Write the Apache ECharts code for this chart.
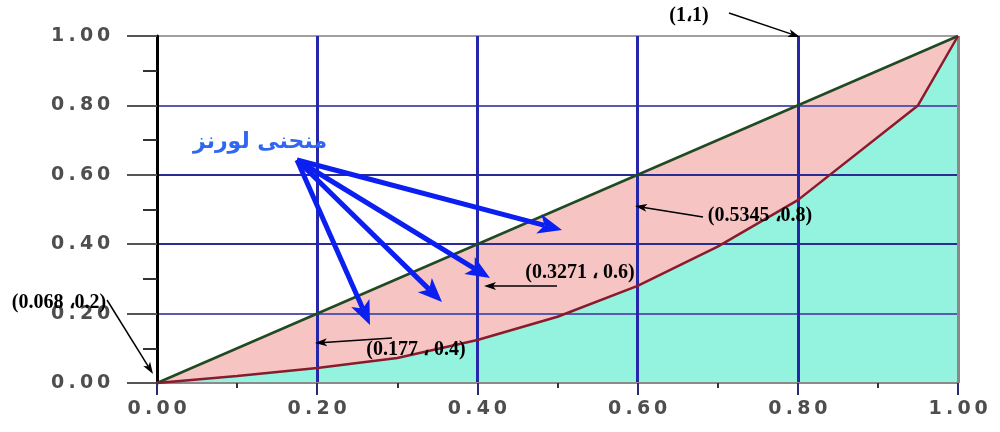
<!DOCTYPE html>
<html><head><meta charset="utf-8">
<script src="https://cdn.jsdelivr.net/npm/echarts@6/dist/echarts.min.js"></script>
<style>html,body{margin:0;padding:0;background:#fff}#c{width:1000px;height:432px}</style>
</head><body><div id="c"></div>
<script>
// ---- data ----
const popShare = [0, 0.1, 0.2, 0.3, 0.4, 0.5, 0.6, 0.7, 0.8, 0.95, 1];
const incomeShare = [0, 0.02, 0.043, 0.072, 0.124, 0.191, 0.28, 0.393, 0.527, 0.8, 1];
const equalityX = [0, 1];
const equalityY = [0, 1];
const titleText = 'منحنى لورنز';
const pointLabels = ['(1،1)', '(0.5345 ،0.8)', '(0.3271 ، 0.6)', '(0.177 ، 0.4)', '(0.068 ،0.2)'];

const lorenzData = popShare.map((x, i) => [x, incomeShare[i]]);
const equalData = equalityX.map((x, i) => [x, equalityY[i]]);

const chart = echarts.init(document.getElementById('c'), null, {renderer: 'canvas'});

function richLabel(v) {
  return v.toFixed(2).split('').map(ch => ch === '.' ? '{p|.}' : '{d|' + ch + '}').join('');
}
const labelRich = {
  d: {width: 17, align: 'center', fontSize: 19, fontWeight: 'bold', color: '#4e4e4e', fontFamily: 'DejaVu Sans'},
  p: {width: 12, align: 'center', fontSize: 19, fontWeight: 'bold', color: '#4e4e4e', fontFamily: 'DejaVu Sans'}
};

function arrow(x1, y1, x2, y2, color, w, hl, hw) {
  const dx = x2 - x1, dy = y2 - y1, L = Math.hypot(dx, dy);
  const ux = dx / L, uy = dy / L, nx = -uy, ny = ux;
  const bx = x2 - ux * hl, by = y2 - uy * hl;
  const nbx = x2 - ux * hl * 0.75, nby = y2 - uy * hl * 0.75;
  return [
    {type: 'line', z: 20, shape: {x1: x1, y1: y1, x2: nbx, y2: nby}, style: {stroke: color, lineWidth: w}},
    {type: 'polygon', z: 20, shape: {points: [[x2, y2], [bx + nx * hw, by + ny * hw], [nbx, nby], [bx - nx * hw, by - ny * hw]]}, style: {fill: color}}
  ];
}

const blue = '#0a1ff0';
const black = '#000';
let graphics = [];
const origin = [297, 160];
[[562, 230], [490, 278], [442, 302], [370, 325]].forEach(t => {
  graphics = graphics.concat(arrow(origin[0], origin[1], t[0], t[1], blue, 5, 24, 10));
});
graphics = graphics.concat(arrow(729, 13, 800, 37, black, 1.5, 12, 4));
graphics = graphics.concat(arrow(703, 217, 635, 206, black, 1.5, 12, 4));
graphics = graphics.concat(arrow(557, 286, 484, 286, black, 1.5, 12, 4));
graphics = graphics.concat(arrow(392, 338, 315, 343, black, 1.5, 12, 4));
graphics = graphics.concat(arrow(107, 300, 153, 374, black, 1.5, 12, 4));

const annoFont = 'bold 20px "Liberation Serif", "DejaVu Serif", serif';
const textPos = [[689, 16], [760, 216], [580, 273], [416, 350], [59, 303]];
pointLabels.forEach((t, i) => {
  graphics.push({type: 'text', z: 21, x: textPos[i][0], y: textPos[i][1],
    style: {text: t, font: annoFont, fill: '#000', textAlign: 'center', textVerticalAlign: 'middle'}});
});
graphics.push({type: 'text', z: 21, x: 260, y: 142,
  style: {text: titleText, font: 'bold 22px "DejaVu Sans", sans-serif', fill: '#2f66f2', textAlign: 'center', textVerticalAlign: 'middle'}});

chart.setOption({
  animation: false,
  backgroundColor: '#fff',
  grid: {left: 157, right: 42, top: 36, bottom: 49, containLabel: false},
  xAxis: {
    type: 'value', min: 0, max: 1, interval: 0.2, z: 3,
    axisLine: {show: true, onZero: false, lineStyle: {color: '#8a8a8a', width: 2}},
    axisTick: {show: true, length: 12, lineStyle: {color: '#2a2a70', width: 2}},
    minorTick: {show: true, splitNumber: 2, length: 5, lineStyle: {color: '#333', width: 2}},
    axisLabel: {margin: 17, formatter: richLabel, rich: labelRich},
    splitLine: {show: true, lineStyle: {color: ['#000', '#2626a8', '#2626a8', '#2626a8', '#2626a8', '#8a8a8a'], width: 3}}
  },
  yAxis: {
    type: 'value', min: 0, max: 1, interval: 0.2, z: 3,
    axisLine: {show: true, onZero: false, lineStyle: {color: '#000', width: 3}},
    axisTick: {show: true, length: 30, lineStyle: {color: '#555', width: 2}},
    minorTick: {show: true, splitNumber: 2, length: 14, lineStyle: {color: '#333', width: 2}},
    axisLabel: {margin: 45, formatter: richLabel, rich: labelRich},
    splitLine: {show: true, lineStyle: {color: ['#8a8a8a', '#5a5ab0', '#2b2b94', '#2b2b94', '#5a5ab0', '#a0a0a0'], width: 2}}
  },
  series: [
    {type: 'line', data: equalData, showSymbol: false, z: 1, lineStyle: {width: 0}, areaStyle: {color: '#f7c4c4', opacity: 1}},
    {type: 'line', data: lorenzData, showSymbol: false, z: 1, lineStyle: {width: 0}, areaStyle: {color: '#93f3df', opacity: 1}},
    {type: 'line', data: equalData, showSymbol: false, z: 5, lineStyle: {color: '#1f4a22', width: 2.5}},
    {type: 'line', data: lorenzData, showSymbol: false, z: 5, lineStyle: {color: '#8a1a2c', width: 2.5}}
  ],
  graphic: graphics
});
</script>
</body></html>
